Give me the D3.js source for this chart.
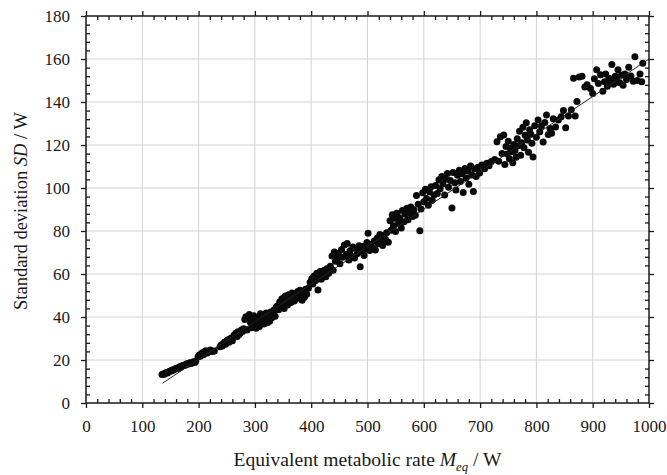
<!DOCTYPE html>
<html>
<head>
<meta charset="utf-8">
<script src="https://cdn.jsdelivr.net/npm/d3@7"></script>
<style>
  body { margin: 0; background: #fff; }
  svg { display: block; font-family: "Liberation Serif", "DejaVu Serif", serif; }
</style>
</head>
<body>
<div id="chart"></div>
<script>
// axis values
const xMajor = [0, 100, 200, 300, 400, 500, 600, 700, 800, 900, 1000];
const yMajor = [0, 20, 40, 60, 80, 100, 120, 140, 160, 180];
const xMinor = d3.range(0, 1001, 20).filter(v => v % 100 !== 0);
const yMinor = d3.range(0, 181, 4).filter(v => v % 20 !== 0);

const ptsLow = [
  [135,13.2],[137,13.5],[139,13.4],[141,13.9],[143,14.1],[145,14.0],[147,14.5],[149,14.8],[151,14.9],[153,15.3],
  [155,15.2],[157,15.7],[159,15.9],[161,16.2],[163,16.0],[165,16.6],[167,16.9],[169,16.7],[171,17.3],[173,17.5],
  [175,17.4],[177,17.9],[179,18.2],[181,18.0],[183,18.5],[185,18.7],[187,18.4],[189,18.9],[191,19.2],[193,18.8],
  [195,19.4],[199,21.5],[201,22.3],[203,21.8],[205,22.9],[207,23.4],[209,22.6],[211,23.9],[213,24.3],[215,23.3],
  [218,23.8],[221,24.6],[224,23.9],[228,24.2],[238,26.2],[240,27.0],[242,26.5],[244,27.6],[246,28.2],[248,27.3],
  [250,28.8],[252,29.4],[254,28.3],[256,29.8],[258,30.2],[260,29.0]
];
const ptsLowMid = [
  [263,31.5],[266,32.4],[268,30.8],[270,33.1],[272,31.9],[274,32.6],[276,34.0],[278,33.2],[280,34.5],[282,38.8],
  [284,40.1],[286,33.9],[288,39.4],[290,41.2],[292,37.6],[294,35.0],[296,38.2],[298,40.6],[300,36.4],[302,34.8],
  [304,37.9],[306,39.8],[308,35.6],[310,41.5],[312,38.6],[314,40.2],[316,36.8],[318,39.1],[320,41.9],[322,37.3],
  [324,40.8],[326,38.0],[328,42.3],[330,39.6],[332,41.0],[334,43.2],[336,40.4],[338,44.6],
  [340,45.1],[342,43.4],[344,47.0],[346,44.8],[348,48.5],[350,46.2],[352,43.9],[354,49.8],[356,47.3],[358,45.6],
  [360,50.4],[362,48.1],[364,46.7],[366,51.2],[368,49.0],[370,47.5],[372,50.8],[374,48.6],[376,51.9],[378,49.4],
  [380,52.5],[382,50.1],[384,47.8],[386,51.5],[388,49.2],[390,52.9],[392,50.6],[395,53.4]
];
const ptsMid = [
  [398,56.2],[401,57.8],[403,55.4],[405,59.1],[408,57.0],[410,60.3],[412,52.6],[414,58.4],[416,61.2],[418,57.6],
  [420,59.9],[423,61.8],[426,58.7],[428,62.5],[431,60.4],[434,63.6],[437,68.4],[439,61.7],[441,70.2],[443,65.9],
  [446,67.3],[448,69.6],[451,64.8],[454,71.4],[456,67.8],[459,73.5],
  [462,69.1],[464,74.2],[467,66.5],[469,70.8],[472,68.3],[474,72.6],[477,67.4],[479,71.9],[482,69.5],[485,73.1],
  [487,63.4],[489,70.4],[492,72.8],[494,68.6],[497,71.5],[499,74.6],[501,79.0],[504,70.9],[506,73.8],[509,72.1],
  [512,75.3],[514,71.2],[517,76.6],[519,74.1],[522,78.4],[524,75.7],[527,73.2],[529,77.9],[532,76.0],[534,79.2],
  [537,74.8],
  [540,84.8],[542,80.3],[544,87.6],[546,82.4],[548,85.9],[550,79.8],[552,88.3],[555,83.6],[557,86.2],[560,81.4],
  [562,89.5],[565,84.3],[567,87.8],[570,90.6],[572,85.2],[575,88.4],[577,91.2],[580,86.7],[582,89.9],[585,87.3],
  [587,96.5],[590,92.4],[593,80.1],[595,90.2],[598,97.8],[600,93.6],[603,99.4],[605,95.1],[608,92.0],[610,98.2],
  [613,100.6],[615,94.3],[618,96.8]
];
const ptsHighMid = [
  [621,101.2],[624,97.5],[627,103.8],[629,99.6],[632,105.4],[634,101.9],[637,96.7],[639,104.1],[642,106.8],[644,100.3],
  [647,103.5],[650,90.7],[652,107.2],[655,102.4],[657,99.1],[660,105.9],[663,108.3],[665,103.0],[668,106.6],[670,97.9],
  [673,109.1],[675,104.7],[678,107.9],[680,101.8],[683,110.2],[685,106.1],[688,98.4],[690,108.8],[693,105.3],[696,109.6],
  [699,107.0],[703,110.7],[708,108.9],[712,111.5],[716,110.4],[720,112.3],
  [726,113.2],[730,121.5],[733,112.4],[736,123.8],[739,116.1],[742,124.6],[744,110.9],[746,119.3],[748,115.8],[750,121.7],
  [752,113.6],[754,118.4],[756,116.9],[758,111.8],[760,120.2],[762,117.5],[764,114.3],[766,122.9],[768,119.6],[770,126.4],
  [772,115.2],[774,121.1],[776,128.2],[778,118.7],[780,124.5],[782,130.3],[784,122.3],[786,116.6],[788,127.1],[790,125.0],
  [792,120.8],[794,114.4],[797,129.0],[800,123.6]
];
const ptsHigh = [
  [803,131.6],[806,126.2],[809,128.8],[812,121.4],[815,130.5],[818,134.0],[821,124.9],[824,127.7],[827,125.5],[830,132.2],
  [834,128.4],[839,131.6],[844,133.1],[848,136.0],[852,128.0],[857,133.5],[862,136.4],[866,151.0],[869,133.5],[872,140.2],
  [876,151.6],[881,152.0],[886,147.0],[890,148.0],[896,146.3],[900,144.0],[903,150.8],[907,155.0],[910,148.6],[914,152.7],
  [918,145.0],[921,149.4],[923,153.0],[926,147.3],[929,151.1],[932,149.8],[934,157.5],[937,148.2],[940,152.0],[943,150.3],
  [945,155.0],[948,148.9],[951,152.5],[954,147.8],[957,153.0],[960,150.5],[964,156.2],[968,152.1],[972,149.6],[975,161.0],
  [979,150.0],[984,153.0],[987,149.4],[989,158.0]
];
// fitted line end points
const fitLine = [[136, 9.2], [1000, 160]];

const points = [...ptsLow, ...ptsLowMid, ...ptsMid, ...ptsHighMid, ...ptsHigh];

const width = 667, height = 475;
const margin = {top: 16, right: 18, bottom: 72, left: 86};
const ink = "#1a1a1a";

const x = d3.scaleLinear().domain([0, 1000]).range([margin.left, width - margin.right]);
const y = d3.scaleLinear().domain([0, 180]).range([height - margin.bottom, margin.top]);

const svg = d3.select("#chart").append("svg")
  .attr("width", width)
  .attr("height", height);

// grid
svg.append("g").selectAll("line.gx")
  .data(xMajor.slice(1, -1)).enter().append("line")
  .attr("x1", d => x(d)).attr("x2", d => x(d))
  .attr("y1", y(0)).attr("y2", y(180))
  .attr("stroke", "#d2d2d2").attr("stroke-width", 1);
svg.append("g").selectAll("line.gy")
  .data(yMajor.slice(1, -1)).enter().append("line")
  .attr("x1", x(0)).attr("x2", x(1000))
  .attr("y1", d => y(d)).attr("y2", d => y(d))
  .attr("stroke", "#d2d2d2").attr("stroke-width", 1);

// axes: major ticks outward, minor inward
function styleAxis(g) {
  g.select(".domain").remove();
  g.selectAll("line").attr("stroke", ink).attr("stroke-width", 1.3);
  g.selectAll("text")
    .attr("fill", ink)
    .style("font-family", "'Liberation Serif', serif")
    .style("font-size", "17px");
}

const bottomY = y(0), topY = y(180), leftX = x(0), rightX = x(1000);

svg.append("g").attr("transform", `translate(0,${bottomY})`)
  .call(d3.axisBottom(x).tickValues(xMajor).tickSize(5).tickSizeOuter(0).tickPadding(12).tickFormat(d3.format("d")))
  .call(styleAxis);
svg.append("g").attr("transform", `translate(0,${bottomY})`)
  .call(d3.axisBottom(x).tickValues(xMinor).tickSize(-4).tickSizeOuter(0).tickFormat(""))
  .call(styleAxis);
svg.append("g").attr("transform", `translate(0,${topY})`)
  .call(d3.axisTop(x).tickValues(xMajor).tickSize(5).tickSizeOuter(0).tickFormat(""))
  .call(styleAxis);
svg.append("g").attr("transform", `translate(0,${topY})`)
  .call(d3.axisTop(x).tickValues(xMinor).tickSize(-4).tickSizeOuter(0).tickFormat(""))
  .call(styleAxis);

svg.append("g").attr("transform", `translate(${leftX},0)`)
  .call(d3.axisLeft(y).tickValues(yMajor).tickSize(5).tickSizeOuter(0).tickPadding(11).tickFormat(d3.format("d")))
  .call(styleAxis);
svg.append("g").attr("transform", `translate(${leftX},0)`)
  .call(d3.axisLeft(y).tickValues(yMinor).tickSize(-4).tickSizeOuter(0).tickFormat(""))
  .call(styleAxis);
svg.append("g").attr("transform", `translate(${rightX},0)`)
  .call(d3.axisRight(y).tickValues(yMajor).tickSize(5).tickSizeOuter(0).tickFormat(""))
  .call(styleAxis);
svg.append("g").attr("transform", `translate(${rightX},0)`)
  .call(d3.axisRight(y).tickValues(yMinor).tickSize(-4).tickSizeOuter(0).tickFormat(""))
  .call(styleAxis);

// frame
svg.append("rect")
  .attr("x", leftX).attr("y", topY)
  .attr("width", rightX - leftX).attr("height", bottomY - topY)
  .attr("fill", "none").attr("stroke", ink).attr("stroke-width", 1.5);

// points
svg.append("g").selectAll("circle")
  .data(points).enter().append("circle")
  .attr("cx", d => x(d[0]))
  .attr("cy", d => y(d[1]))
  .attr("r", 3.5)
  .attr("fill", "#0a0a0a");

// fit line
svg.append("path")
  .datum(fitLine)
  .attr("d", d3.line().x(d => x(d[0])).y(d => y(d[1])))
  .attr("fill", "none")
  .attr("stroke", "#222")
  .attr("stroke-width", 1);

// axis titles
const xt = svg.append("text")
  .attr("transform", `translate(${(238 + 497) / 2},466) scale(1.06,1)`)
  .attr("text-anchor", "middle")
  .attr("fill", ink)
  .style("font-size", "18.5px");
xt.append("tspan").text("Equivalent metabolic rate ");
xt.append("tspan").attr("font-style", "italic").text("M");
xt.append("tspan").attr("font-style", "italic").attr("font-size", "12px").attr("dy", 5).text("eq");
xt.append("tspan").attr("dy", -5).text(" / W");

const yt = svg.append("text")
  .attr("transform", `translate(27,211) rotate(-90)`)
  .attr("text-anchor", "middle")
  .attr("fill", ink)
  .style("font-size", "18.5px");
yt.append("tspan").text("Standard deviation ");
yt.append("tspan").attr("font-style", "italic").text("SD");
yt.append("tspan").text(" / W");
</script>
</body>
</html>
